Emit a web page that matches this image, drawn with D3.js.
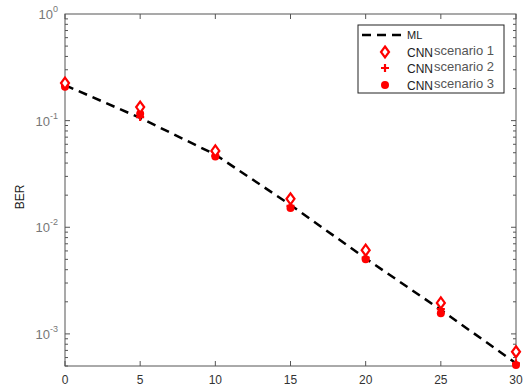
<!DOCTYPE html>
<html>
<head>
<meta charset="utf-8">
<script src="https://cdn.jsdelivr.net/npm/d3@7"></script>
<style>
  body { margin: 0; background: #fff; }
  text { font-family: "Liberation Sans", Arial, sans-serif; }
</style>
</head>
<body>
<svg id="chart" width="526" height="389"></svg>
<script>
const SNR = [0, 5, 10, 15, 20, 25, 30];
const ML = [0.215, 0.106, 0.048, 0.0162, 0.0051, 0.00168, 0.00053];
const CNN_S1 = [0.225, 0.134, 0.052, 0.0185, 0.0061, 0.00195, 0.00068];
const CNN_S2 = [0.212, 0.108, 0.047, 0.0159, 0.0052, 0.00171, 0.00053];
const CNN_S3 = [0.208, 0.116, 0.046, 0.0152, 0.0050, 0.00156, 0.00051];
const X_TICKS = [0, 5, 10, 15, 20, 25, 30];
const Y_DECADES = [0, -1, -2, -3];

const LEFT = 65, RIGHT = 516, TOP = 14, BOTTOM = 366;
const AXIS_COLOR = "#555";
const RED = "#ff0000";

const svg = d3.select("#chart");

const x = d3.scaleLinear().domain([0, 30]).range([LEFT, RIGHT]);
const y = d3.scaleLog().domain([5e-4, 1]).range([BOTTOM, TOP]);

// minor ticks for log axis
const minorTicks = [];
for (let e = -4; e <= -1; e++) {
    for (let m = 1; m <= 9; m++) {
        const v = m * Math.pow(10, e);
        if (v >= 5e-4 && v <= 1) minorTicks.push(v);
    }
}

// plot box
svg.append("rect")
    .attr("x", LEFT).attr("y", TOP)
    .attr("width", RIGHT - LEFT).attr("height", BOTTOM - TOP)
    .attr("fill", "none").attr("stroke", AXIS_COLOR).attr("stroke-width", 1);

// x ticks, bottom and top
X_TICKS.forEach((t) => {
    svg.append("line").attr("x1", x(t)).attr("x2", x(t))
        .attr("y1", BOTTOM).attr("y2", BOTTOM - 5).attr("stroke", AXIS_COLOR);
    svg.append("line").attr("x1", x(t)).attr("x2", x(t))
        .attr("y1", TOP).attr("y2", TOP + 5).attr("stroke", AXIS_COLOR);
    svg.append("text").attr("x", x(t)).attr("y", BOTTOM + 18)
        .attr("text-anchor", "middle").attr("font-size", 12).attr("fill", "#333")
        .text(t);
});

// y ticks, left and right
minorTicks.forEach((v) => {
    const major = Math.abs(Math.log10(v) - Math.round(Math.log10(v))) < 1e-9;
    const len = major ? 5 : 3;
    svg.append("line").attr("x1", LEFT).attr("x2", LEFT + len)
        .attr("y1", y(v)).attr("y2", y(v)).attr("stroke", AXIS_COLOR);
    svg.append("line").attr("x1", RIGHT).attr("x2", RIGHT - len)
        .attr("y1", y(v)).attr("y2", y(v)).attr("stroke", AXIS_COLOR);
});

Y_DECADES.forEach((e) => {
    const t = svg.append("text").attr("x", LEFT - 7).attr("y", y(Math.pow(10, e)) + 5)
        .attr("text-anchor", "end").attr("font-size", 13).attr("fill", "#777");
    t.append("tspan").text("10");
    t.append("tspan").attr("font-size", 9).attr("dy", -7).text(e);
});

svg.append("text")
    .attr("transform", `translate(24, ${(TOP + BOTTOM) / 2 + 7}) rotate(-90)`)
    .attr("text-anchor", "middle").attr("font-size", 12).attr("fill", "#222")
    .text("BER");

// ML dashed line
const line = d3.line().x((d, i) => x(SNR[i])).y((d) => y(d));
svg.append("path").datum(ML).attr("d", line)
    .attr("fill", "none").attr("stroke", "#000").attr("stroke-width", 2.5)
    .attr("stroke-dasharray", "9,6");

const diamond = (cx, cy) => `M${cx},${cy - 5.5}L${cx + 4},${cy}L${cx},${cy + 5.5}L${cx - 4},${cy}Z`;

function drawDots(g, data) {
    g.selectAll("circle").data(data).enter().append("circle")
        .attr("cx", (d, i) => x(SNR[i])).attr("cy", (d) => y(d)).attr("r", 4)
        .attr("fill", RED);
}
function drawPlus(g, data) {
    g.selectAll("path").data(data).enter().append("path")
        .attr("d", (d, i) => {
            const cx = x(SNR[i]), cy = y(d);
            return `M${cx - 4},${cy}H${cx + 4}M${cx},${cy - 4}V${cy + 4}`;
        })
        .attr("stroke", RED).attr("stroke-width", 2.2).attr("fill", "none");
}
function drawDiamonds(g, data) {
    g.selectAll("path").data(data).enter().append("path")
        .attr("d", (d, i) => diamond(x(SNR[i]), y(d)))
        .attr("stroke", RED).attr("stroke-width", 2.2).attr("fill", "#fff");
}

drawDots(svg.append("g"), CNN_S3);
drawPlus(svg.append("g"), CNN_S2);
drawDiamonds(svg.append("g"), CNN_S1);

// legend
const lg = svg.append("g");
lg.append("rect").attr("x", 358).attr("y", 25).attr("width", 146).attr("height", 68)
    .attr("fill", "#fff").attr("stroke", "#222").attr("stroke-width", 1);
lg.append("line").attr("x1", 362).attr("x2", 405).attr("y1", 35).attr("y2", 35)
    .attr("stroke", "#000").attr("stroke-width", 2.5).attr("stroke-dasharray", "9,6");
lg.append("text").attr("x", 407).attr("y", 39).attr("font-size", 11).attr("fill", "#222").text("ML");

const rows = [
    { y: 52, label: "scenario 1", kind: "diamond" },
    { y: 68, label: "scenario 2", kind: "plus" },
    { y: 85, label: "scenario 3", kind: "dot" },
];
rows.forEach((r) => {
    const cx = 385;
    if (r.kind === "diamond") {
        lg.append("path").attr("d", diamond(cx, r.y)).attr("stroke", RED)
            .attr("stroke-width", 2.2).attr("fill", "#fff");
    } else if (r.kind === "plus") {
        lg.append("path").attr("d", `M${cx - 4},${r.y}H${cx + 4}M${cx},${r.y - 4}V${r.y + 4}`)
            .attr("stroke", RED).attr("stroke-width", 2.2);
    } else {
        lg.append("circle").attr("cx", cx).attr("cy", r.y).attr("r", 4).attr("fill", RED);
    }
    const t = lg.append("text").attr("x", 407).attr("y", r.y + 5).attr("font-size", 12).attr("fill", "#222");
    t.append("tspan").text("CNN");
    t.append("tspan").attr("dy", -2).attr("font-size", 13).attr("fill", "#555").attr("dx", 1).text(r.label);
});
</script>
</body>
</html>
